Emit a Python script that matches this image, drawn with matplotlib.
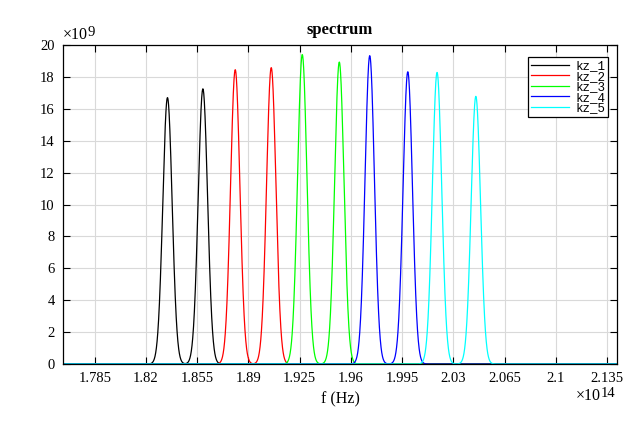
import numpy as np
import matplotlib
matplotlib.use("Agg")
import matplotlib.pyplot as plt
import matplotlib.transforms as mtransforms

# Data (frequency in units of 1e14 Hz, amplitude in units of 1e9)
series_names = ["kz_1", "kz_2", "kz_3", "kz_4", "kz_5"]
series_colors = ["#000000", "#ff0000", "#00ff00", "#0000ff", "#00ffff"]
peak_centers = [
    [1.8347, 1.8589],
    [1.8810, 1.9056],
    [1.9268, 1.9521],
    [1.9729, 1.9989],
    [2.0189, 2.0454],
]
peak_heights = [
    [16.70, 17.25],
    [18.45, 18.58],
    [19.40, 18.93],
    [19.33, 18.32],
    [18.28, 16.78],
]
peak_sigma = 0.0032
x_ticks = [1.785, 1.82, 1.855, 1.89, 1.925, 1.96, 1.995, 2.03, 2.065, 2.1, 2.135]
x_ticklabels = ["1.785", "1.82", "1.855", "1.89", "1.925", "1.96", "1.995", "2.03", "2.065", "2.1", "2.135"]
y_ticks = list(range(0, 21, 2))
x_min, x_max = 1.7633, 2.1420

plt.rcParams['font.family'] = ['Liberation Serif', 'DejaVu Serif']
fig = plt.figure(figsize=(6.4, 4.22), dpi=100)
ax = fig.add_axes([0.0984, 0.1374, 0.866, 0.756])

f = np.linspace(x_min, x_max, 4000)
for name, col, cs, hs in zip(series_names, series_colors, peak_centers, peak_heights):
    y = np.zeros_like(f)
    for c, h in zip(cs, hs):
        y += h * np.exp(-0.5 * ((f - c) / peak_sigma) ** 2)
    ax.plot(f, y, color=col, lw=0.9, label=name)

ax.set_xlim(x_min, x_max)
ax.set_ylim(0, 20)
ax.set_xticks(x_ticks)
ax.set_xticklabels(x_ticklabels)
ax.set_yticks(y_ticks)
ax.grid(True, color='#d9d9d9', lw=0.8)
ax.set_axisbelow(True)
ax.tick_params(direction='in', top=True, right=True, length=5, width=0.8, labelsize=10.5, pad=6)
for s in ax.spines.values():
    s.set_linewidth(0.9)

ax.set_title("spectrum", fontsize=12, fontweight='bold', pad=8)
ax.set_xlabel("f (Hz)", fontsize=11.5, labelpad=4)


def off(dx, dy):
    return ax.transAxes + mtransforms.ScaledTranslation(dx / 100, dy / 100, fig.dpi_scale_trans)


# y exponent (top-left)
ax.text(0, 1, "\u00d710", transform=off(0, 6), fontsize=11.5, ha='left', va='baseline')
ax.text(0, 1, "9", transform=off(25, 9), fontsize=10.5, ha='left', va='baseline')
# x exponent (bottom-right)
ax.text(1, 0, "\u00d710", transform=off(-16, -36), fontsize=11.5, ha='right', va='baseline')
ax.text(1, 0, "14", transform=off(-2, -33), fontsize=10.5, ha='right', va='baseline')

leg = ax.legend(loc='upper right', bbox_to_anchor=(0.984, 0.962), fancybox=False, framealpha=1,
                edgecolor='black', prop={'family': 'Liberation Mono', 'size': 9},
                handlelength=3.0, borderpad=0.25, labelspacing=-0.12, handletextpad=0.5, borderaxespad=0.0)
leg.get_frame().set_linewidth(0.9)

fig.savefig("out.png", dpi=100)
